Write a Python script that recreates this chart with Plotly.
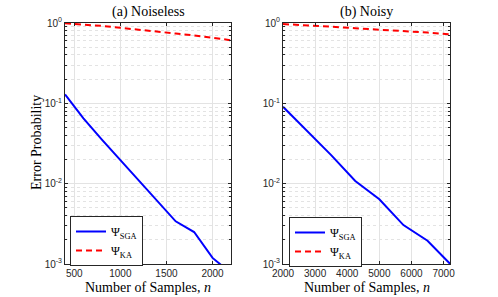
import plotly.graph_objects as go

# ---- data ----
n_noiseless = [400, 600, 800, 1000, 1200, 1400, 1600, 1800, 2000, 2200]
sga_noiseless = [0.129, 0.065, 0.0354, 0.0197, 0.011, 0.0061, 0.0034, 0.0025, 0.00119, 0.00077]
ka_noiseless = [0.99, 0.96, 0.92, 0.87, 0.83, 0.78, 0.74, 0.70, 0.65, 0.61]

n_noisy = [2000, 2750, 3500, 4250, 5000, 5750, 6500, 7250]
sga_noisy = [0.0907, 0.046, 0.0227, 0.0108, 0.0064, 0.00305, 0.00195, 0.00096]
ka_noisy = [0.97, 0.94, 0.90, 0.86, 0.83, 0.79, 0.76, 0.72]

panel_titles = ["(a) Noiseless", "(b) Noisy"]
legend_names = ["Ψ<sub>SGA</sub>", "Ψ<sub>KA</sub>"]
y_tickvals = [0.001, 0.01, 0.1, 1]
y_ticktext = ["10<sup>-3</sup>", "10<sup>-2</sup>", "10<sup>-1</sup>", "10<sup>0</sup>"]
y_minorvals = [m * d for d in (0.001, 0.01, 0.1) for m in range(2, 10)]

W, H = 498, 297
L, R, T, B = 65, 450, 23, 264   # plot area in pixels
SERIF = "Liberation Serif, Times New Roman, serif"
SANS = "Liberation Sans, Arial, sans-serif"
AX = "#262626"
GRID = "#e3e3e3"

def px(x):
    return (x - L) / (R - L)

def py(y):
    return (B - y) / (B - T)

fig = go.Figure()

fig.add_trace(go.Scatter(x=n_noiseless, y=sga_noiseless, mode="lines", name=legend_names[0],
                         line=dict(color="#0000ff", width=2), xaxis="x", yaxis="y", legend="legend"))
fig.add_trace(go.Scatter(x=n_noiseless, y=ka_noiseless, mode="lines", name=legend_names[1],
                         line=dict(color="#ff0000", width=2, dash="6px,4px"), xaxis="x", yaxis="y", legend="legend"))
fig.add_trace(go.Scatter(x=n_noisy, y=sga_noisy, mode="lines", name=legend_names[0],
                         line=dict(color="#0000ff", width=2), xaxis="x2", yaxis="y2", legend="legend2"))
fig.add_trace(go.Scatter(x=n_noisy, y=ka_noisy, mode="lines", name=legend_names[1],
                         line=dict(color="#ff0000", width=2, dash="6px,4px"), xaxis="x2", yaxis="y2", legend="legend2"))

common_x = dict(showline=True, linecolor=AX, linewidth=1, mirror="ticks", ticks="inside", ticklen=3,
                tickcolor=AX, showgrid=True, gridcolor=GRID, gridwidth=1, zeroline=False,
                automargin=False, tickfont=dict(family=SANS, size=10, color=AX),
                tickmode="array", minor=dict(showgrid=False, ticks=""))
common_y = dict(type="log", range=[-3, 0], tickmode="array", tickvals=y_tickvals, ticktext=y_ticktext,
                showline=True, linecolor=AX, linewidth=1, mirror="ticks", ticks="inside", ticklen=3,
                tickcolor=AX, showgrid=True, gridcolor=GRID, gridwidth=1, zeroline=False,
                automargin=False, tickfont=dict(family=SANS, size=10, color=AX),
                minor=dict(tickmode="array", tickvals=y_minorvals, ticks="inside", ticklen=2,
                           tickcolor=AX, showgrid=True, gridcolor=GRID, griddash="dot", gridwidth=1))

leg_common = dict(xanchor="left", yanchor="top", bgcolor="white", bordercolor=AX, borderwidth=1,
                  font=dict(family=SERIF, size=12, color="black"), itemwidth=30, tracegroupgap=0)

fig.update_layout(
    width=W, height=H,
    margin=dict(l=L, r=W - R, t=T, b=H - B, autoexpand=False),
    paper_bgcolor="white", plot_bgcolor="white",
    xaxis=dict(domain=[0, px(231)], range=[400, 2200], tickvals=[500, 1000, 1500, 2000],
               anchor="y", **common_x),
    yaxis=dict(domain=[0, 1], anchor="x", **common_y),
    xaxis2=dict(domain=[px(283), 1], range=[2000, 7200],
                tickvals=[2000, 3000, 4000, 5000, 6000, 7000], anchor="y2", **common_x),
    yaxis2=dict(domain=[0, 1], anchor="x2", **common_y),
    legend=dict(x=px(70), y=py(216), **leg_common),
    legend2=dict(x=px(289), y=py(217), **leg_common),
    showlegend=True,
)

def note(text, x, y, angle=0):
    return dict(text=text, x=px(x), y=py(y), xref="paper", yref="paper", xanchor="center",
                yanchor="middle", textangle=angle, showarrow=False,
                font=dict(family=SERIF, size=14, color="black"))

annos = [
    note(panel_titles[0], 148, 12),
    note(panel_titles[1], 366.5, 12),
    note("Number of Samples, <i>n</i>", 148, 287),
    note("Number of Samples, <i>n</i>", 366.5, 287),
    note("Error Probability", 36, 143, -90),
]
fig.update_layout(annotations=annos)

fig.write_html("out.html", config={"displayModeBar": False},
               post_script="document.body.style.margin='0';")
